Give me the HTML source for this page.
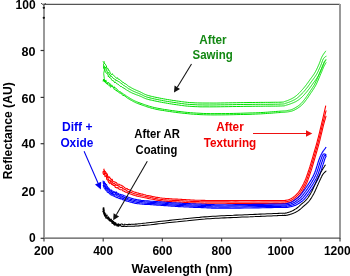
<!DOCTYPE html>
<html><head><meta charset="utf-8"><style>
html,body{margin:0;padding:0;background:#fff;width:350px;height:276px;overflow:hidden}
svg{display:block;will-change:transform}
text{font-family:"Liberation Sans",sans-serif;font-weight:bold}
</style></head><body>
<svg width="350" height="276" viewBox="0 0 350 276">
<rect width="350" height="276" fill="#fff"/>
<line x1="44" y1="4.35" x2="340" y2="4.35" stroke="#555" stroke-width="1.25"/>
<line x1="340" y1="4" x2="340" y2="238.8" stroke="#999" stroke-width="2"/>
<line x1="44" y1="238.2" x2="340" y2="238.2" stroke="#555" stroke-width="1.3"/>
<line x1="44" y1="3.5" x2="44" y2="238.8" stroke="#999" stroke-width="2"/>
<circle cx="43.8" cy="7.8" r="1.15" fill="#111"/><circle cx="43.8" cy="17.8" r="1.15" fill="#111"/>
<polyline points="41,3.2 43.6,5 46,3.4" fill="none" stroke="#333" stroke-width="0.9"/>
<line x1="40.6" y1="238.30" x2="44" y2="238.30" stroke="#333" stroke-width="1.2"/>
<line x1="40.6" y1="191.10" x2="44" y2="191.10" stroke="#333" stroke-width="1.2"/>
<line x1="40.6" y1="143.70" x2="44" y2="143.70" stroke="#333" stroke-width="1.2"/>
<line x1="40.6" y1="97.40" x2="44" y2="97.40" stroke="#333" stroke-width="1.2"/>
<line x1="40.6" y1="50.50" x2="44" y2="50.50" stroke="#333" stroke-width="1.2"/>
<line x1="44.00" y1="238" x2="44.00" y2="241.5" stroke="#444" stroke-width="1.2"/>
<line x1="103.20" y1="238" x2="103.20" y2="241.5" stroke="#444" stroke-width="1.2"/>
<line x1="162.40" y1="238" x2="162.40" y2="241.5" stroke="#444" stroke-width="1.2"/>
<line x1="221.60" y1="238" x2="221.60" y2="241.5" stroke="#444" stroke-width="1.2"/>
<line x1="280.80" y1="238" x2="280.80" y2="241.5" stroke="#444" stroke-width="1.2"/>
<line x1="340.00" y1="238" x2="340.00" y2="241.5" stroke="#444" stroke-width="1.2"/>
<g stroke-linejoin="round" stroke-linecap="round">
<path d="M103.25,61.72 L103.64,62.31 L104.19,61.62 L103.99,64.06 L104.62,63.42 L105.72,64.77 L106.05,65.64 L106.37,65.82 L106.88,68.25 L107.32,68.88 L107.98,68.39 L108.59,70.30 L108.78,70.02 L109.75,71.61 L110.16,73.01 L110.67,73.65 L110.96,73.95 L111.50,74.66 L112.31,73.69 L112.34,74.33 L113.41,75.10 L113.73,75.29 L114.22,75.81 L114.70,76.50 L115.43,77.34 L116.09,77.77 L116.82,78.27 L117.39,77.67 L118.17,79.15 L118.92,79.22 L119.61,79.41 L120.48,80.41 L121.11,80.55 L122.20,82.04 L122.84,82.50 L123.85,82.67 L124.73,83.75 L125.78,83.95 L126.62,84.61 L127.53,85.38 L128.41,86.20 L129.20,86.71 L129.98,86.96 L130.78,87.43 L131.52,87.93 L132.28,88.31 L132.99,88.73 L133.71,89.09 L134.44,89.38 L135.12,89.71 L135.82,90.02 L136.51,90.33 L137.21,90.61 L137.89,90.92 L138.58,91.19 L139.30,91.51 L140.00,91.79 L140.68,92.15 L141.28,92.46 L141.88,92.72 L142.42,93.04 L142.96,93.33 L143.50,93.65 L144.05,93.89 L144.67,94.24 L145.31,94.50 L146.05,94.78 L146.86,95.07 L147.78,95.39 L148.82,95.68 L150.01,95.97 L151.33,96.34 L152.78,96.65 L154.37,97.00 L156.04,97.37 L157.83,97.71 L159.66,98.09 L161.57,98.46 L163.51,98.80 L165.45,99.19 L167.43,99.51 L169.36,99.82 L171.30,100.13 L173.19,100.46 L174.99,100.68 L176.74,100.96 L178.36,101.17 L179.90,101.39 L181.42,101.60 L182.90,101.81 L184.40,101.99 L185.95,102.15 L187.52,102.37 L189.24,102.52 L191.03,102.65 L193.00,102.72 L195.12,102.86 L197.45,102.93 L199.99,102.99 L202.84,103.02 L206.01,103.06 L209.43,103.04 L213.06,103.07 L216.84,103.05 L220.74,102.98 L224.67,102.93 L228.65,102.83 L232.60,102.78 L236.44,102.74 L240.16,102.63 L243.68,102.61 L246.98,102.56 L250.00,102.48 L252.82,102.50 L255.54,102.47 L258.21,102.45 L260.77,102.38 L263.22,102.42 L265.56,102.37 L267.81,102.37 L269.94,102.35 L271.96,102.30 L273.82,102.29 L275.58,102.26 L277.21,102.29 L278.66,102.24 L279.99,102.19 L281.12,102.17 L282.03,102.11 L282.72,102.07 L283.24,102.04 L283.64,101.99 L283.88,101.93 L284.06,101.91 L284.18,101.84 L284.25,101.80 L284.30,101.71 L284.38,101.67 L284.50,101.59 L284.70,101.47 L285.00,101.41 L285.34,101.29 L285.71,101.22 L286.08,101.07 L286.44,100.98 L286.78,100.84 L287.13,100.73 L287.50,100.60 L287.87,100.45 L288.22,100.29 L288.56,100.15 L288.91,99.96 L289.29,99.80 L289.63,99.64 L290.01,99.48 L290.34,99.36 L290.70,99.19 L291.08,99.01 L291.44,98.82 L291.79,98.60 L292.15,98.45 L292.51,98.23 L292.86,98.10 L293.20,97.85 L293.57,97.67 L293.92,97.41 L294.28,97.21 L294.65,96.95 L295.00,96.69 L295.35,96.43 L295.70,96.16 L296.09,95.86 L296.44,95.55 L296.79,95.29 L297.15,94.95 L297.50,94.64 L297.87,94.28 L298.20,93.98 L298.58,93.62 L298.93,93.29 L299.28,92.90 L299.63,92.57 L299.99,92.18 L300.36,91.87 L300.71,91.47 L301.07,91.10 L301.43,90.67 L301.78,90.26 L302.14,89.89 L302.49,89.48 L302.85,89.10 L303.20,88.70 L303.57,88.25 L303.93,87.84 L304.29,87.39 L304.64,86.96 L305.01,86.49 L305.36,86.08 L305.71,85.57 L306.06,85.14 L306.43,84.68 L306.80,84.15 L307.13,83.67 L307.49,83.21 L307.87,82.73 L308.21,82.23 L308.57,81.70 L308.94,81.17 L309.27,80.73 L309.64,80.19 L310.00,79.71 L310.35,79.19 L310.72,78.70 L311.08,78.21 L311.47,77.70 L311.83,77.18 L312.19,76.71 L312.55,76.22 L312.94,75.65 L313.30,75.16 L313.65,74.67 L313.99,74.14 L314.34,73.61 L314.67,73.07 L315.01,72.51 L315.32,71.91 L315.63,71.35 L315.95,70.79 L316.25,70.16 L316.55,69.59 L316.83,69.01 L317.13,68.34 L317.42,67.73 L317.68,67.17 L317.96,66.55 L318.23,65.94 L318.48,65.33 L318.74,64.79 L319.01,64.20 L319.25,63.62 L319.47,63.06 L319.71,62.47 L319.91,61.92 L320.13,61.37 L320.32,60.82 L320.53,60.29 L320.72,59.76 L320.91,59.18 L321.12,58.65 L321.34,58.18 L321.54,57.64 L321.77,57.19 L322.01,56.72 L322.25,56.21 L322.51,55.74 L322.80,55.29 L323.08,54.80 L323.40,54.33 L323.70,53.94 L324.00,53.47 L324.28,53.07 L324.56,52.71 L324.82,52.30 L325.07,51.98 L325.27,51.70 L325.44,51.44 L325.60,51.20" stroke="#00e000" stroke-width="1.0" fill="none"/>
<path d="M103.52,64.57 L103.47,65.17 L103.64,65.66 L104.57,66.19 L104.90,68.10 L105.63,67.05 L106.01,68.99 L105.86,69.30 L106.54,69.61 L107.33,72.29 L107.70,73.03 L108.54,72.40 L109.21,74.12 L109.80,75.06 L110.18,75.01 L110.74,76.65 L111.28,76.28 L111.72,76.84 L111.80,76.55 L112.31,77.24 L112.90,78.12 L113.78,78.57 L114.17,79.11 L114.67,79.21 L115.52,79.51 L115.82,80.59 L116.75,80.29 L117.24,80.96 L118.05,81.07 L118.51,81.60 L119.64,82.11 L120.33,82.77 L121.09,83.37 L122.04,84.01 L122.82,84.62 L123.78,85.55 L124.67,85.87 L125.69,86.74 L126.64,87.17 L127.47,87.92 L128.29,88.68 L129.16,88.90 L130.00,89.42 L130.78,89.90 L131.52,90.27 L132.28,90.68 L133.01,91.04 L133.73,91.36 L134.42,91.67 L135.13,91.99 L135.81,92.24 L136.52,92.58 L137.20,92.79 L137.88,93.07 L138.58,93.34 L139.28,93.67 L140.01,93.93 L140.69,94.25 L141.31,94.57 L141.88,94.80 L142.41,95.12 L142.97,95.37 L143.49,95.70 L144.05,95.94 L144.66,96.24 L145.33,96.48 L146.06,96.80 L146.87,97.06 L147.80,97.34 L148.82,97.62 L150.01,97.93 L151.32,98.22 L152.79,98.58 L154.37,98.91 L156.05,99.25 L157.83,99.61 L159.66,100.02 L161.57,100.34 L163.49,100.75 L165.46,101.11 L167.43,101.41 L169.38,101.76 L171.29,102.04 L173.17,102.33 L175.01,102.57 L176.73,102.82 L178.34,103.09 L179.90,103.27 L181.40,103.52 L182.91,103.68 L184.39,103.93 L185.93,104.08 L187.53,104.26 L189.23,104.40 L191.04,104.49 L192.98,104.61 L195.13,104.71 L197.43,104.86 L199.99,104.93 L202.84,104.95 L206.00,105.00 L209.42,104.98 L213.05,104.98 L216.83,104.93 L220.73,104.84 L224.70,104.82 L228.67,104.73 L232.59,104.68 L236.45,104.58 L240.15,104.54 L243.68,104.49 L246.99,104.43 L250.00,104.41 L252.81,104.36 L255.57,104.34 L258.20,104.30 L260.75,104.29 L263.23,104.31 L265.58,104.32 L267.82,104.30 L269.94,104.25 L271.96,104.26 L273.85,104.22 L275.60,104.19 L277.25,104.20 L278.76,104.17 L280.15,104.07 L281.36,104.05 L282.32,104.03 L283.05,104.00 L283.63,103.94 L284.04,103.91 L284.33,103.83 L284.50,103.79 L284.62,103.72 L284.69,103.71 L284.77,103.66 L284.87,103.58 L284.99,103.45 L285.20,103.39 L285.53,103.30 L285.91,103.23 L286.30,103.09 L286.70,103.00 L287.08,102.85 L287.48,102.70 L287.85,102.61 L288.25,102.45 L288.63,102.31 L289.04,102.19 L289.43,102.06 L289.82,101.85 L290.19,101.69 L290.58,101.55 L290.96,101.40 L291.35,101.22 L291.74,101.08 L292.13,100.87 L292.51,100.71 L292.91,100.55 L293.30,100.37 L293.67,100.14 L294.07,99.99 L294.44,99.79 L294.83,99.53 L295.20,99.29 L295.59,99.13 L295.98,98.85 L296.35,98.63 L296.73,98.34 L297.09,98.06 L297.46,97.75 L297.85,97.51 L298.22,97.16 L298.58,96.85 L298.97,96.53 L299.34,96.18 L299.69,95.87 L300.05,95.55 L300.43,95.21 L300.79,94.79 L301.14,94.47 L301.50,94.08 L301.86,93.76 L302.20,93.37 L302.57,92.98 L302.94,92.62 L303.29,92.18 L303.65,91.78 L304.00,91.42 L304.35,90.97 L304.73,90.60 L305.07,90.14 L305.42,89.69 L305.78,89.32 L306.13,88.82 L306.49,88.37 L306.86,87.97 L307.22,87.50 L307.58,86.99 L307.92,86.58 L308.27,86.05 L308.64,85.57 L309.00,85.06 L309.35,84.63 L309.70,84.13 L310.06,83.64 L310.43,83.11 L310.78,82.57 L311.15,82.08 L311.49,81.62 L311.87,81.07 L312.24,80.60 L312.59,80.08 L312.95,79.64 L313.32,79.08 L313.69,78.57 L314.06,78.12 L314.41,77.56 L314.80,77.10 L315.16,76.53 L315.49,76.06 L315.84,75.50 L316.17,74.91 L316.50,74.42 L316.83,73.84 L317.13,73.27 L317.44,72.68 L317.75,72.06 L318.05,71.52 L318.35,70.85 L318.64,70.29 L318.90,69.64 L319.18,69.02 L319.47,68.44 L319.74,67.82 L319.98,67.28 L320.26,66.71 L320.51,66.10 L320.75,65.50 L320.98,64.94 L321.19,64.37 L321.41,63.77 L321.62,63.16 L321.82,62.60 L322.04,62.05 L322.24,61.48 L322.42,60.95 L322.62,60.36 L322.84,59.91 L323.04,59.44 L323.26,59.03 L323.50,58.60 L323.75,58.27 L324.03,57.91 L324.30,57.61 L324.58,57.32 L324.90,57.09 L325.18,56.87 L325.48,56.67 L325.77,56.42 L326.00,56.32" stroke="#00e000" stroke-width="1.0" fill="none"/>
<path d="M103.58,66.86 L103.50,67.84 L104.18,67.86 L104.05,68.95 L104.64,69.03 L105.31,71.84 L105.78,72.27 L106.53,73.36 L107.12,73.40 L107.45,73.63 L108.15,75.05 L108.37,76.90 L108.77,76.32 L109.72,77.83 L109.69,77.41 L110.41,77.96 L111.26,78.80 L111.39,79.64 L112.07,80.15 L112.67,80.93 L113.07,80.41 L113.95,81.72 L113.96,81.70 L114.93,82.87 L115.13,81.83 L115.98,82.80 L116.84,83.74 L117.22,83.65 L118.04,84.68 L118.60,84.60 L119.34,85.41 L120.15,86.26 L121.20,86.47 L121.93,86.76 L122.96,87.88 L123.89,88.04 L124.91,88.90 L125.70,89.20 L126.56,90.15 L127.42,90.50 L128.37,90.95 L129.23,91.61 L130.03,91.99 L130.76,92.26 L131.53,92.69 L132.27,93.09 L132.99,93.41 L133.73,93.66 L134.44,93.97 L135.12,94.23 L135.81,94.52 L136.51,94.80 L137.21,95.00 L137.89,95.28 L138.58,95.53 L139.28,95.82 L140.00,96.06 L140.67,96.36 L141.30,96.62 L141.88,96.89 L142.42,97.19 L142.95,97.47 L143.50,97.72 L144.07,97.99 L144.66,98.21 L145.33,98.53 L146.05,98.78 L146.86,99.06 L147.79,99.28 L148.83,99.61 L150.00,99.90 L151.32,100.14 L152.79,100.47 L154.37,100.82 L156.04,101.18 L157.83,101.54 L159.67,101.93 L161.56,102.27 L163.50,102.65 L165.45,102.95 L167.43,103.32 L169.37,103.67 L171.31,103.95 L173.19,104.26 L175.01,104.48 L176.71,104.76 L178.36,104.97 L179.91,105.21 L181.41,105.43 L182.91,105.61 L184.39,105.80 L185.93,105.99 L187.53,106.13 L189.22,106.28 L191.04,106.39 L192.98,106.53 L195.11,106.64 L197.43,106.70 L200.00,106.83 L202.86,106.85 L206.00,106.84 L209.42,106.86 L213.06,106.83 L216.85,106.82 L220.73,106.75 L224.70,106.69 L228.66,106.65 L232.59,106.56 L236.46,106.53 L240.16,106.47 L243.68,106.40 L246.99,106.32 L250.00,106.33 L252.81,106.29 L255.54,106.26 L258.20,106.23 L260.75,106.24 L263.22,106.20 L265.57,106.18 L267.82,106.15 L269.94,106.16 L271.95,106.10 L273.82,106.13 L275.58,106.11 L277.27,106.10 L278.86,106.05 L280.31,105.97 L281.58,105.98 L282.62,105.90 L283.40,105.92 L284.02,105.84 L284.46,105.77 L284.76,105.76 L284.96,105.68 L285.07,105.66 L285.18,105.56 L285.22,105.49 L285.34,105.45 L285.47,105.41 L285.71,105.28 L286.06,105.16 L286.47,105.11 L286.89,104.96 L287.32,104.87 L287.75,104.73 L288.17,104.63 L288.59,104.51 L289.00,104.36 L289.41,104.23 L289.85,104.08 L290.26,103.93 L290.67,103.77 L291.11,103.63 L291.53,103.45 L291.93,103.27 L292.36,103.11 L292.78,102.95 L293.20,102.80 L293.62,102.63 L294.03,102.43 L294.43,102.22 L294.86,102.06 L295.25,101.90 L295.67,101.67 L296.08,101.42 L296.50,101.20 L296.88,101.03 L297.28,100.75 L297.69,100.48 L298.10,100.23 L298.47,99.95 L298.86,99.68 L299.27,99.40 L299.64,99.08 L300.03,98.75 L300.41,98.42 L300.78,98.11 L301.16,97.80 L301.53,97.46 L301.90,97.04 L302.29,96.72 L302.65,96.36 L303.00,95.97 L303.36,95.63 L303.73,95.22 L304.06,94.89 L304.44,94.49 L304.79,94.10 L305.14,93.70 L305.50,93.26 L305.85,92.90 L306.21,92.46 L306.56,92.03 L306.93,91.63 L307.30,91.18 L307.63,90.73 L307.99,90.28 L308.36,89.86 L308.71,89.37 L309.06,88.90 L309.43,88.43 L309.80,87.97 L310.14,87.48 L310.49,87.01 L310.86,86.49 L311.22,85.99 L311.56,85.48 L311.92,85.01 L312.29,84.52 L312.63,84.02 L313.00,83.49 L313.36,83.00 L313.71,82.49 L314.09,82.02 L314.47,81.48 L314.84,81.02 L315.20,80.53 L315.55,80.01 L315.94,79.46 L316.29,79.00 L316.64,78.47 L317.01,77.92 L317.33,77.37 L317.68,76.84 L317.99,76.30 L318.33,75.72 L318.62,75.20 L318.94,74.57 L319.26,73.97 L319.53,73.41 L319.83,72.76 L320.14,72.15 L320.42,71.55 L320.68,70.93 L320.96,70.35 L321.22,69.75 L321.48,69.18 L321.76,68.59 L322.01,67.97 L322.24,67.40 L322.47,66.86 L322.71,66.24 L322.91,65.57 L323.12,64.94 L323.34,64.35 L323.52,63.79 L323.72,63.21 L323.92,62.64 L324.12,62.14 L324.33,61.62 L324.55,61.20 L324.76,60.79 L325.00,60.47 L325.26,60.24 L325.50,60.04 L325.79,59.91 L326.00,59.85" stroke="#00e000" stroke-width="1.0" fill="none"/>
<path d="M103.6,66 L104.4,70 L103.7,73.5 L104.3,78.5" stroke="#00e000" stroke-width="0.85" fill="none"/>
<path d="M103.60,79.37 L103.74,80.20 L103.62,81.03 L103.75,80.90 L104.04,80.89 L104.37,79.27 L104.92,81.41 L105.52,81.74 L105.96,79.96 L105.72,80.38 L106.45,81.51 L106.84,82.64 L107.50,82.69 L107.84,82.74 L107.63,83.87 L108.18,82.49 L109.40,83.36 L109.87,83.30 L110.16,85.20 L110.71,85.28 L112.12,85.24 L112.67,86.76 L113.36,87.33 L114.19,86.59 L114.63,88.03 L115.91,88.09 L116.47,88.54 L117.41,89.57 L118.01,90.43 L118.62,91.05 L119.77,91.77 L120.38,91.64 L121.20,92.96 L122.20,93.06 L123.12,93.96 L123.94,94.28 L124.97,95.22 L125.73,95.35 L126.75,96.34 L127.54,96.73 L128.45,97.29 L129.16,97.69 L129.98,98.33 L130.74,98.82 L131.45,99.14 L132.10,99.52 L132.72,99.86 L133.31,100.19 L133.91,100.48 L134.51,100.78 L135.13,101.06 L135.77,101.38 L136.48,101.66 L137.22,101.96 L138.07,102.31 L138.97,102.62 L139.99,103.04 L141.07,103.38 L142.15,103.78 L143.27,104.19 L144.39,104.58 L145.58,104.97 L146.83,105.42 L148.12,105.87 L149.51,106.28 L150.98,106.71 L152.53,107.09 L154.21,107.52 L156.01,107.92 L157.92,108.29 L159.99,108.67 L162.23,109.08 L164.57,109.47 L167.07,109.81 L169.69,110.22 L172.42,110.60 L175.21,110.99 L178.14,111.40 L181.11,111.70 L184.15,112.08 L187.25,112.41 L190.42,112.69 L193.59,112.92 L196.80,113.11 L199.99,113.27 L203.30,113.46 L206.78,113.55 L210.41,113.62 L214.15,113.63 L217.95,113.58 L221.77,113.58 L225.62,113.56 L229.46,113.51 L233.22,113.43 L236.88,113.34 L240.44,113.28 L243.82,113.15 L247.02,113.06 L250.01,112.96 L252.82,112.91 L255.53,112.82 L258.17,112.73 L260.71,112.57 L263.15,112.45 L265.45,112.30 L267.70,112.16 L269.81,111.96 L271.79,111.83 L273.68,111.69 L275.46,111.56 L277.09,111.39 L278.63,111.31 L280.00,111.20 L281.21,111.13 L282.22,111.04 L283.05,111.04 L283.71,110.95 L284.23,110.96 L284.67,110.92 L284.99,110.91 L285.28,110.85 L285.52,110.83 L285.75,110.83 L286.00,110.74 L286.26,110.76 L286.59,110.68 L287.01,110.56 L287.47,110.53 L287.90,110.43 L288.34,110.35 L288.76,110.28 L289.19,110.25 L289.59,110.16 L290.00,110.05 L290.40,109.97 L290.83,109.85 L291.23,109.72 L291.65,109.56 L292.10,109.35 L292.54,109.24 L293.00,108.99 L293.48,108.76 L293.98,108.51 L294.46,108.29 L294.97,107.94 L295.52,107.63 L296.04,107.37 L296.57,106.99 L297.10,106.69 L297.61,106.32 L298.11,105.95 L298.63,105.63 L299.08,105.21 L299.55,104.89 L299.99,104.47 L300.43,104.11 L300.83,103.76 L301.22,103.41 L301.56,103.03 L301.93,102.60 L302.27,102.24 L302.63,101.81 L302.97,101.39 L303.29,100.97 L303.62,100.61 L303.96,100.12 L304.29,99.72 L304.64,99.29 L304.99,98.83 L305.36,98.36 L305.71,97.81 L306.06,97.36 L306.41,96.82 L306.79,96.37 L307.15,95.85 L307.50,95.32 L307.86,94.77 L308.21,94.19 L308.56,93.66 L308.93,93.11 L309.30,92.60 L309.65,92.08 L309.99,91.53 L310.37,90.94 L310.70,90.45 L311.08,89.92 L311.43,89.38 L311.77,88.82 L312.14,88.32 L312.49,87.80 L312.84,87.25 L313.21,86.67 L313.58,86.10 L313.93,85.47 L314.28,84.86 L314.63,84.21 L315.00,83.46 L315.38,82.76 L315.72,81.98 L316.09,81.17 L316.49,80.38 L316.87,79.49 L317.26,78.60 L317.62,77.67 L317.99,76.80 L318.35,75.94 L318.71,75.07 L319.06,74.24 L319.38,73.42 L319.71,72.67 L320.01,72.04 L320.27,71.39 L320.54,70.78 L320.78,70.18 L321.02,69.57 L321.24,69.07 L321.45,68.57 L321.66,68.09 L321.86,67.56 L322.05,67.14 L322.24,66.65 L322.41,66.29 L322.61,65.85 L322.81,65.40 L323.00,65.00 L323.22,64.59 L323.42,64.17 L323.64,63.80 L323.86,63.43 L324.05,63.06 L324.28,62.64 L324.49,62.28 L324.68,62.01 L324.89,61.70 L325.05,61.35 L325.22,61.12 L325.38,60.87 L325.50,60.68 L325.59,60.52" stroke="#00e000" stroke-width="1.0" fill="none"/>
<path d="M103.15,81.04 L103.44,79.74 L103.93,81.14 L104.27,80.93 L104.81,82.16 L104.27,80.38 L105.35,81.64 L104.78,81.30 L105.69,81.56 L105.71,83.06 L106.07,83.30 L107.03,83.93 L107.16,83.87 L107.33,84.25 L108.13,84.49 L108.53,85.25 L108.87,85.58 L110.13,84.62 L110.19,87.04 L110.75,87.18 L111.85,86.27 L112.62,86.71 L113.53,87.81 L114.34,89.38 L114.60,89.11 L115.41,90.23 L116.18,89.76 L116.99,91.45 L117.86,91.26 L118.77,92.12 L119.59,93.17 L120.40,93.21 L121.49,93.58 L122.10,94.79 L123.04,95.43 L124.10,95.60 L124.84,96.03 L125.88,96.88 L126.62,97.33 L127.47,98.25 L128.31,98.64 L129.22,99.13 L130.00,99.57 L130.73,100.10 L131.47,100.45 L132.09,100.85 L132.70,101.14 L133.31,101.51 L133.90,101.77 L134.52,102.07 L135.11,102.43 L135.78,102.71 L136.46,103.01 L137.23,103.25 L138.07,103.64 L138.97,103.94 L140.01,104.29 L141.07,104.70 L142.16,105.11 L143.27,105.50 L144.41,105.86 L145.59,106.31 L146.82,106.74 L148.12,107.13 L149.52,107.57 L150.96,108.04 L152.54,108.44 L154.21,108.81 L156.00,109.26 L157.92,109.66 L159.99,110.03 L162.21,110.37 L164.57,110.73 L167.07,111.14 L169.68,111.51 L172.39,111.91 L175.23,112.27 L178.12,112.70 L181.11,113.01 L184.17,113.33 L187.25,113.64 L190.40,113.99 L193.58,114.19 L196.80,114.39 L199.98,114.61 L203.30,114.74 L206.78,114.84 L210.42,114.88 L214.13,114.93 L217.95,114.88 L221.77,114.88 L225.63,114.83 L229.45,114.77 L233.22,114.71 L236.87,114.60 L240.42,114.53 L243.83,114.46 L247.02,114.42 L250.01,114.32 L252.80,114.20 L255.54,114.09 L258.16,113.97 L260.69,113.88 L263.14,113.71 L265.46,113.58 L267.69,113.38 L269.81,113.26 L271.81,113.15 L273.74,112.96 L275.53,112.83 L277.24,112.70 L278.80,112.60 L280.25,112.52 L281.53,112.41 L282.59,112.36 L283.43,112.29 L284.13,112.26 L284.71,112.27 L285.15,112.18 L285.49,112.16 L285.79,112.18 L286.03,112.14 L286.28,112.12 L286.54,112.06 L286.82,112.01 L287.16,111.98 L287.59,111.90 L288.08,111.80 L288.54,111.78 L288.99,111.65 L289.44,111.60 L289.88,111.51 L290.31,111.41 L290.74,111.35 L291.16,111.25 L291.59,111.16 L292.05,110.97 L292.48,110.84 L292.92,110.72 L293.40,110.53 L293.87,110.34 L294.35,110.08 L294.86,109.85 L295.39,109.53 L295.90,109.26 L296.45,108.94 L297.00,108.67 L297.53,108.31 L298.07,107.94 L298.60,107.58 L299.12,107.27 L299.60,106.87 L300.10,106.53 L300.56,106.13 L301.01,105.79 L301.42,105.45 L301.82,105.06 L302.20,104.68 L302.56,104.29 L302.94,103.89 L303.27,103.55 L303.62,103.13 L303.96,102.74 L304.29,102.32 L304.61,101.91 L304.96,101.46 L305.30,101.03 L305.64,100.57 L305.99,100.13 L306.37,99.61 L306.72,99.18 L307.06,98.63 L307.44,98.19 L307.77,97.66 L308.16,97.10 L308.51,96.58 L308.87,96.06 L309.21,95.49 L309.58,95.00 L309.92,94.40 L310.27,93.87 L310.66,93.37 L311.01,92.82 L311.35,92.25 L311.73,91.75 L312.09,91.22 L312.44,90.69 L312.80,90.13 L313.13,89.59 L313.48,89.04 L313.86,88.49 L314.21,87.91 L314.57,87.36 L314.93,86.79 L315.27,86.11 L315.63,85.52 L316.00,84.81 L316.37,84.04 L316.74,83.29 L317.11,82.48 L317.49,81.62 L317.86,80.75 L318.26,79.88 L318.61,78.98 L319.00,78.09 L319.36,77.25 L319.72,76.38 L320.05,75.56 L320.40,74.74 L320.69,73.96 L321.01,73.33 L321.28,72.66 L321.54,72.01 L321.79,71.50 L322.01,70.91 L322.25,70.38 L322.44,69.83 L322.66,69.40 L322.86,68.88 L323.05,68.46 L323.23,68.01 L323.42,67.53 L323.59,67.15 L323.81,66.68 L323.99,66.29 L324.19,65.91 L324.41,65.49 L324.63,65.08 L324.86,64.70 L325.07,64.34 L325.28,63.94 L325.50,63.63 L325.69,63.28 L325.88,62.96 L326.00,62.76" stroke="#00e000" stroke-width="1.0" fill="none"/>
<path d="M103.81,169.77 L103.98,169.14 L104.01,170.17 L104.65,170.90 L104.49,171.56 L105.58,171.66 L105.11,171.51 L106.22,172.91 L106.98,174.27 L107.31,173.97 L107.70,176.08 L108.61,177.30 L108.62,177.17 L109.81,177.01 L109.65,177.85 L110.79,178.73 L111.41,180.26 L112.15,179.28 L112.75,181.19 L113.46,181.77 L114.26,181.79 L115.03,182.12 L115.29,182.15 L116.55,182.67 L117.03,183.87 L117.90,184.15 L118.53,184.18 L119.07,184.22 L119.84,185.04 L120.73,184.95 L121.48,185.42 L122.10,185.78 L122.85,186.31 L123.72,186.91 L124.39,187.37 L124.95,188.03 L125.66,188.18 L126.46,188.82 L127.18,188.65 L127.85,189.43 L128.63,189.51 L129.24,189.81 L130.03,190.12 L130.72,190.45 L131.35,190.80 L131.95,191.03 L132.57,191.26 L133.16,191.52 L133.78,191.72 L134.36,191.96 L135.02,192.18 L135.70,192.38 L136.41,192.62 L137.19,192.85 L138.05,193.08 L138.99,193.38 L140.02,193.58 L141.12,193.92 L142.32,194.15 L143.61,194.53 L144.99,194.82 L146.39,195.18 L147.89,195.50 L149.39,195.82 L150.90,196.12 L152.44,196.44 L153.99,196.74 L155.52,197.10 L157.07,197.36 L158.54,197.58 L160.00,197.82 L161.42,197.99 L162.86,198.19 L164.28,198.27 L165.71,198.47 L167.13,198.57 L168.56,198.64 L170.00,198.72 L171.43,198.84 L172.85,198.93 L174.30,198.97 L175.72,199.08 L177.15,199.14 L178.57,199.23 L180.01,199.28 L181.42,199.41 L182.81,199.51 L184.19,199.57 L185.57,199.65 L186.93,199.74 L188.30,199.81 L189.69,199.90 L191.09,199.99 L192.48,200.06 L193.92,200.09 L195.37,200.18 L196.87,200.19 L198.41,200.23 L199.99,200.28 L201.56,200.33 L203.05,200.41 L204.50,200.39 L205.91,200.44 L207.34,200.43 L208.78,200.47 L210.32,200.44 L211.93,200.43 L213.66,200.50 L215.54,200.44 L217.57,200.50 L219.80,200.49 L222.27,200.47 L224.98,200.48 L228.13,200.52 L231.73,200.56 L235.69,200.56 L240.00,200.56 L244.47,200.53 L249.09,200.56 L253.74,200.59 L258.36,200.56 L262.81,200.59 L267.06,200.61 L270.98,200.63 L274.51,200.60 L277.55,200.62 L279.99,200.57 L281.89,200.61 L283.35,200.58 L284.38,200.56 L285.08,200.59 L285.48,200.62 L285.63,200.62 L285.61,200.62 L285.50,200.55 L285.26,200.53 L285.04,200.56 L284.85,200.54 L284.72,200.51 L284.76,200.43 L285.00,200.42 L285.35,200.36 L285.72,200.32 L286.07,200.24 L286.43,200.19 L286.79,200.10 L287.13,200.03 L287.50,200.03 L287.86,199.93 L288.23,199.86 L288.56,199.71 L288.93,199.60 L289.29,199.46 L289.64,199.37 L289.99,199.17 L290.37,199.00 L290.73,198.85 L291.09,198.65 L291.44,198.42 L291.79,198.26 L292.15,197.96 L292.54,197.75 L292.89,197.53 L293.25,197.22 L293.59,196.98 L293.96,196.67 L294.30,196.40 L294.64,196.13 L295.01,195.77 L295.34,195.50 L295.66,195.18 L296.01,194.88 L296.33,194.55 L296.66,194.27 L296.97,193.89 L297.28,193.55 L297.61,193.21 L297.92,192.84 L298.24,192.44 L298.58,192.01 L298.92,191.63 L299.26,191.15 L299.59,190.61 L299.95,190.09 L300.32,189.49 L300.71,188.83 L301.06,188.24 L301.47,187.55 L301.83,186.83 L302.25,186.18 L302.62,185.46 L303.02,184.67 L303.39,184.01 L303.77,183.26 L304.11,182.49 L304.45,181.76 L304.81,180.99 L305.11,180.23 L305.44,179.53 L305.75,178.75 L306.05,177.91 L306.35,177.12 L306.65,176.32 L306.93,175.54 L307.21,174.75 L307.49,173.94 L307.76,173.10 L308.02,172.36 L308.30,171.54 L308.54,170.72 L308.81,170.01 L309.04,169.25 L309.27,168.62 L309.47,167.95 L309.68,167.36 L309.85,166.73 L310.05,166.19 L310.24,165.52 L310.43,164.91 L310.65,164.25 L310.87,163.54 L311.07,162.75 L311.33,161.95 L311.61,161.03 L311.90,159.96 L312.24,158.85 L312.58,157.62 L312.98,156.35 L313.37,154.94 L313.78,153.52 L314.24,151.99 L314.66,150.52 L315.12,148.93 L315.57,147.42 L316.00,145.85 L316.43,144.33 L316.84,142.88 L317.24,141.36 L317.59,139.98 L317.94,138.68 L318.30,137.30 L318.64,135.97 L318.97,134.67 L319.29,133.37 L319.62,132.07 L319.93,130.72 L320.23,129.50 L320.53,128.20 L320.82,126.96 L321.12,125.68 L321.43,124.42 L321.69,123.21 L322.00,121.97 L322.29,120.78 L322.61,119.50 L322.92,118.12 L323.21,116.81 L323.51,115.50 L323.82,114.19 L324.13,112.86 L324.40,111.63 L324.67,110.41 L324.93,109.33 L325.16,108.36 L325.38,107.42 L325.54,106.67 L325.69,105.97" stroke="#ff0000" stroke-width="1.1" fill="none"/>
<path d="M103.67,171.81 L103.40,171.27 L104.37,171.72 L104.16,171.40 L104.23,173.96 L105.44,172.92 L105.73,173.75 L106.31,175.03 L106.77,176.24 L106.74,177.16 L107.81,176.80 L107.83,178.12 L109.01,180.41 L109.36,180.83 L110.17,180.23 L110.57,181.96 L111.24,181.82 L112.08,181.66 L112.58,182.85 L113.37,183.62 L113.89,183.70 L114.76,183.54 L115.71,185.32 L116.32,184.89 L116.97,185.36 L117.73,185.52 L118.77,186.06 L119.14,186.82 L119.77,186.86 L120.74,187.78 L121.35,187.36 L122.32,187.74 L122.83,188.61 L123.73,188.86 L124.21,189.18 L124.96,189.46 L125.82,190.07 L126.48,190.28 L127.18,190.96 L127.81,191.28 L128.54,191.48 L129.34,191.69 L130.04,191.97 L130.69,192.36 L131.35,192.47 L131.95,192.78 L132.56,192.98 L133.17,193.22 L133.77,193.44 L134.36,193.65 L135.03,193.89 L135.69,194.04 L136.41,194.25 L137.19,194.44 L138.03,194.73 L138.99,194.91 L140.00,195.13 L141.13,195.44 L142.34,195.70 L143.62,196.02 L144.98,196.27 L146.39,196.65 L147.86,196.89 L149.38,197.22 L150.90,197.58 L152.44,197.87 L154.01,198.20 L155.55,198.43 L157.07,198.74 L158.54,199.02 L159.99,199.24 L161.41,199.36 L162.86,199.57 L164.29,199.73 L165.70,199.86 L167.14,199.99 L168.58,200.07 L169.99,200.18 L171.42,200.21 L172.85,200.33 L174.28,200.38 L175.72,200.44 L177.13,200.53 L178.58,200.63 L179.99,200.71 L181.43,200.80 L182.80,200.84 L184.21,200.98 L185.56,201.06 L186.94,201.14 L188.30,201.22 L189.68,201.27 L191.07,201.37 L192.50,201.41 L193.91,201.47 L195.39,201.54 L196.86,201.63 L198.42,201.62 L200.01,201.70 L201.57,201.77 L203.06,201.80 L204.48,201.82 L205.90,201.83 L207.32,201.84 L208.78,201.88 L210.30,201.86 L211.94,201.89 L213.66,201.86 L215.51,201.91 L217.56,201.91 L219.81,201.88 L222.28,201.89 L225.01,201.91 L228.11,201.91 L231.71,201.95 L235.69,201.92 L239.99,201.93 L244.49,201.98 L249.09,201.96 L253.76,201.98 L258.36,201.97 L262.82,202.00 L267.07,201.98 L270.99,201.98 L274.50,201.98 L277.58,201.97 L280.08,202.00 L282.05,202.01 L283.53,201.99 L284.64,201.97 L285.35,202.02 L285.76,201.96 L285.94,202.01 L285.93,201.98 L285.79,202.00 L285.54,201.93 L285.31,201.95 L285.09,201.91 L284.99,201.85 L285.03,201.81 L285.29,201.76 L285.64,201.76 L286.02,201.71 L286.40,201.69 L286.78,201.58 L287.14,201.53 L287.53,201.49 L287.91,201.40 L288.29,201.31 L288.65,201.27 L289.03,201.13 L289.41,201.04 L289.76,200.89 L290.15,200.75 L290.51,200.60 L290.88,200.41 L291.28,200.23 L291.66,200.01 L292.02,199.84 L292.39,199.66 L292.79,199.38 L293.14,199.18 L293.54,198.90 L293.89,198.60 L294.28,198.38 L294.64,198.07 L294.99,197.79 L295.36,197.51 L295.71,197.19 L296.06,196.91 L296.42,196.56 L296.76,196.30 L297.07,195.94 L297.42,195.63 L297.72,195.30 L298.07,194.98 L298.37,194.61 L298.71,194.25 L299.03,193.89 L299.38,193.42 L299.70,192.97 L300.04,192.52 L300.39,192.01 L300.77,191.44 L301.12,190.86 L301.50,190.22 L301.87,189.60 L302.25,188.98 L302.66,188.27 L303.02,187.58 L303.42,186.87 L303.81,186.09 L304.19,185.38 L304.55,184.65 L304.91,183.85 L305.25,183.15 L305.59,182.37 L305.91,181.68 L306.24,180.92 L306.57,180.14 L306.85,179.37 L307.16,178.56 L307.46,177.72 L307.73,176.96 L308.00,176.09 L308.27,175.32 L308.55,174.55 L308.81,173.71 L309.09,172.94 L309.36,172.17 L309.61,171.44 L309.85,170.69 L310.06,170.01 L310.27,169.35 L310.48,168.76 L310.66,168.13 L310.87,167.56 L311.04,166.95 L311.24,166.36 L311.45,165.68 L311.67,164.95 L311.88,164.17 L312.14,163.31 L312.39,162.44 L312.69,161.37 L313.03,160.27 L313.39,159.03 L313.77,157.72 L314.17,156.36 L314.59,154.89 L315.04,153.45 L315.46,151.90 L315.90,150.32 L316.35,148.84 L316.78,147.26 L317.23,145.69 L317.63,144.22 L318.03,142.82 L318.41,141.42 L318.74,140.06 L319.10,138.68 L319.43,137.35 L319.77,136.00 L320.11,134.66 L320.42,133.33 L320.73,132.05 L321.03,130.76 L321.32,129.47 L321.63,128.20 L321.94,127.00 L322.22,125.79 L322.50,124.53 L322.79,123.43 L323.09,122.26 L323.39,121.01 L323.71,119.83 L324.01,118.58 L324.32,117.35 L324.64,116.21 L324.92,115.00 L325.22,113.91 L325.49,112.86 L325.72,111.90 L325.95,111.02 L326.00,110.82" stroke="#ff0000" stroke-width="1.1" fill="none"/>
<path d="M102.99,171.82 L103.15,173.43 L103.68,174.57 L104.50,174.53 L105.14,176.39 L104.94,176.63 L105.78,175.97 L106.35,176.44 L106.75,179.35 L107.26,179.68 L107.82,179.85 L107.90,180.57 L108.66,182.26 L109.73,183.27 L109.86,183.71 L110.93,182.50 L111.29,183.21 L111.60,184.39 L112.76,184.40 L113.20,185.41 L114.08,185.25 L114.58,185.52 L115.42,187.48 L116.10,187.50 L117.13,188.03 L117.96,187.31 L118.45,188.72 L119.35,189.11 L119.78,189.45 L120.67,189.76 L121.46,189.68 L122.15,189.74 L123.01,190.90 L123.62,191.05 L124.36,191.23 L124.93,191.73 L125.84,192.20 L126.50,192.10 L127.10,192.50 L127.87,193.10 L128.59,193.26 L129.28,193.41 L129.98,193.92 L130.72,194.08 L131.35,194.26 L131.95,194.49 L132.55,194.72 L133.18,194.96 L133.75,195.12 L134.36,195.31 L135.00,195.52 L135.68,195.70 L136.42,195.88 L137.18,196.13 L138.04,196.32 L138.97,196.53 L139.98,196.72 L141.13,196.96 L142.34,197.21 L143.61,197.50 L144.98,197.75 L146.41,198.07 L147.87,198.39 L149.39,198.67 L150.90,199.00 L152.46,199.28 L154.00,199.56 L155.54,199.87 L157.07,200.12 L158.53,200.41 L160.00,200.62 L161.44,200.81 L162.85,200.99 L164.29,201.10 L165.70,201.21 L167.13,201.34 L168.57,201.47 L170.01,201.56 L171.43,201.59 L172.86,201.71 L174.29,201.77 L175.72,201.86 L177.15,201.93 L178.58,202.04 L180.00,202.10 L181.42,202.19 L182.83,202.31 L184.20,202.38 L185.56,202.48 L186.94,202.49 L188.29,202.63 L189.70,202.69 L191.08,202.73 L192.49,202.85 L193.93,202.85 L195.37,202.91 L196.89,203.03 L198.43,203.05 L199.99,203.06 L201.55,203.13 L203.04,203.16 L204.49,203.23 L205.90,203.24 L207.32,203.22 L208.80,203.21 L210.30,203.30 L211.92,203.26 L213.66,203.30 L215.52,203.30 L217.56,203.31 L219.81,203.27 L222.26,203.26 L225.00,203.27 L228.13,203.35 L231.71,203.34 L235.71,203.34 L239.99,203.34 L244.49,203.33 L249.10,203.37 L253.74,203.35 L258.37,203.39 L262.82,203.39 L267.07,203.41 L270.97,203.44 L274.52,203.42 L277.59,203.42 L280.16,203.44 L282.20,203.37 L283.76,203.39 L284.87,203.43 L285.63,203.39 L286.07,203.39 L286.27,203.41 L286.26,203.41 L286.09,203.36 L285.87,203.34 L285.59,203.34 L285.37,203.32 L285.25,203.26 L285.29,203.24 L285.55,203.23 L285.95,203.13 L286.35,203.08 L286.75,203.05 L287.11,203.01 L287.53,202.92 L287.91,202.87 L288.31,202.84 L288.68,202.71 L289.09,202.63 L289.47,202.54 L289.85,202.38 L290.27,202.29 L290.64,202.16 L291.04,202.03 L291.41,201.84 L291.80,201.65 L292.22,201.45 L292.60,201.27 L293.00,201.06 L293.39,200.78 L293.79,200.55 L294.15,200.27 L294.57,200.05 L294.92,199.79 L295.33,199.45 L295.71,199.17 L296.07,198.92 L296.43,198.59 L296.79,198.30 L297.16,198.02 L297.51,197.71 L297.83,197.36 L298.18,197.09 L298.50,196.75 L298.83,196.35 L299.17,196.06 L299.50,195.68 L299.84,195.28 L300.16,194.87 L300.49,194.39 L300.84,193.90 L301.21,193.43 L301.57,192.86 L301.92,192.24 L302.30,191.69 L302.67,191.05 L303.06,190.38 L303.44,189.70 L303.83,188.93 L304.23,188.27 L304.61,187.50 L304.99,186.75 L305.35,186.01 L305.71,185.25 L306.05,184.54 L306.40,183.79 L306.73,183.04 L307.05,182.25 L307.36,181.55 L307.66,180.74 L307.97,179.91 L308.23,179.13 L308.54,178.33 L308.81,177.51 L309.09,176.74 L309.34,175.92 L309.61,175.14 L309.88,174.36 L310.14,173.57 L310.40,172.84 L310.64,172.08 L310.87,171.39 L311.09,170.76 L311.26,170.14 L311.47,169.60 L311.66,169.01 L311.83,168.39 L312.05,167.71 L312.22,167.06 L312.45,166.36 L312.69,165.56 L312.92,164.73 L313.19,163.82 L313.50,162.78 L313.82,161.69 L314.18,160.48 L314.58,159.12 L314.96,157.78 L315.38,156.33 L315.83,154.84 L316.26,153.32 L316.70,151.76 L317.17,150.21 L317.58,148.64 L318.01,147.16 L318.44,145.63 L318.83,144.18 L319.20,142.79 L319.57,141.43 L319.90,140.09 L320.23,138.69 L320.57,137.39 L320.89,136.00 L321.21,134.69 L321.52,133.37 L321.83,132.02 L322.13,130.80 L322.42,129.54 L322.71,128.29 L323.02,127.10 L323.29,125.90 L323.60,124.83 L323.89,123.72 L324.20,122.61 L324.49,121.48 L324.81,120.32 L325.13,119.25 L325.44,118.23 L325.73,117.15 L326.00,116.20" stroke="#ff0000" stroke-width="1.1" fill="none"/>
<path d="M103.08,181.10 L103.53,182.35 L104.35,181.73 L104.47,183.64 L104.53,184.05 L105.41,183.31 L105.70,184.57 L106.27,184.56 L106.70,184.91 L106.80,186.24 L107.57,186.83 L108.05,188.33 L108.77,188.04 L109.32,189.15 L109.79,189.66 L110.42,189.98 L111.21,189.97 L111.77,190.67 L112.46,191.00 L113.40,191.51 L114.30,191.73 L114.63,192.08 L115.35,192.41 L116.48,191.98 L116.85,193.05 L117.74,193.23 L118.66,193.79 L119.28,194.00 L120.14,194.24 L120.67,194.65 L121.40,194.93 L122.11,194.91 L122.73,194.95 L123.68,195.48 L124.34,195.77 L125.05,196.07 L125.65,196.24 L126.45,196.45 L127.21,196.68 L127.87,197.23 L128.60,197.24 L129.25,197.62 L129.99,197.72 L130.67,198.04 L131.32,198.20 L131.97,198.41 L132.57,198.58 L133.15,198.77 L133.77,198.97 L134.38,199.16 L135.02,199.28 L135.69,199.43 L136.42,199.61 L137.19,199.79 L138.06,199.92 L138.98,200.08 L140.01,200.18 L141.12,200.37 L142.34,200.50 L143.62,200.58 L144.99,200.70 L146.41,200.83 L147.88,200.94 L149.37,201.08 L150.91,201.20 L152.44,201.25 L154.00,201.38 L155.54,201.48 L157.04,201.59 L158.54,201.71 L160.01,201.82 L161.42,201.91 L162.85,202.04 L164.28,202.13 L165.72,202.21 L167.14,202.31 L168.56,202.43 L169.99,202.54 L171.43,202.67 L172.85,202.74 L174.29,202.83 L175.71,202.93 L177.15,203.02 L178.58,203.09 L180.00,203.19 L181.41,203.26 L182.81,203.38 L184.20,203.46 L185.56,203.49 L186.93,203.57 L188.30,203.65 L189.69,203.67 L191.08,203.75 L192.48,203.80 L193.93,203.90 L195.39,203.91 L196.87,203.98 L198.41,204.04 L200.00,204.09 L201.55,204.19 L203.06,204.24 L204.50,204.29 L205.91,204.35 L207.33,204.45 L208.80,204.51 L210.32,204.55 L211.93,204.64 L213.65,204.65 L215.51,204.70 L217.56,204.73 L219.80,204.77 L222.27,204.82 L224.99,204.77 L228.13,204.78 L231.73,204.75 L235.69,204.69 L240.00,204.63 L244.48,204.58 L249.10,204.52 L253.76,204.43 L258.35,204.40 L262.82,204.32 L267.04,204.24 L270.98,204.18 L274.51,204.08 L277.55,204.02 L280.00,204.01 L281.89,203.95 L283.34,203.94 L284.37,203.96 L285.04,203.99 L285.43,203.96 L285.60,204.02 L285.56,204.03 L285.40,204.03 L285.19,204.00 L284.95,204.01 L284.77,204.00 L284.67,204.00 L284.73,203.93 L285.00,203.92 L285.39,203.82 L285.82,203.74 L286.25,203.68 L286.66,203.62 L287.12,203.51 L287.55,203.39 L287.99,203.31 L288.45,203.17 L288.89,203.07 L289.33,202.94 L289.77,202.77 L290.20,202.64 L290.60,202.48 L291.00,202.29 L291.40,202.14 L291.78,201.94 L292.16,201.70 L292.52,201.51 L292.89,201.25 L293.26,201.02 L293.63,200.74 L293.98,200.51 L294.33,200.29 L294.68,199.98 L295.01,199.75 L295.34,199.52 L295.67,199.24 L295.99,199.00 L296.32,198.74 L296.62,198.52 L296.89,198.31 L297.19,198.11 L297.47,197.90 L297.74,197.69 L298.00,197.47 L298.28,197.24 L298.53,196.97 L298.82,196.70 L299.09,196.47 L299.38,196.16 L299.68,195.85 L300.01,195.47 L300.32,195.16 L300.65,194.78 L300.98,194.35 L301.32,193.96 L301.67,193.52 L302.02,193.04 L302.38,192.57 L302.74,192.14 L303.09,191.63 L303.47,191.12 L303.86,190.61 L304.23,190.06 L304.60,189.55 L305.00,189.03 L305.40,188.46 L305.82,187.86 L306.25,187.19 L306.71,186.59 L307.14,185.91 L307.61,185.29 L308.07,184.59 L308.52,183.91 L308.96,183.22 L309.41,182.54 L309.83,181.88 L310.23,181.27 L310.64,180.62 L311.01,180.01 L311.35,179.41 L311.67,178.82 L312.00,178.28 L312.30,177.74 L312.58,177.22 L312.87,176.71 L313.13,176.16 L313.40,175.63 L313.67,175.09 L313.93,174.57 L314.18,173.97 L314.46,173.34 L314.72,172.72 L314.99,172.00 L315.27,171.26 L315.58,170.45 L315.86,169.59 L316.14,168.71 L316.44,167.79 L316.71,166.88 L317.01,165.94 L317.29,164.99 L317.58,164.07 L317.84,163.16 L318.11,162.30 L318.39,161.48 L318.65,160.70 L318.89,160.01 L319.15,159.32 L319.38,158.75 L319.60,158.17 L319.81,157.61 L320.02,157.05 L320.23,156.54 L320.46,156.08 L320.65,155.65 L320.86,155.21 L321.07,154.77 L321.31,154.31 L321.53,153.90 L321.77,153.43 L322.00,152.99 L322.26,152.55 L322.56,152.08 L322.85,151.61 L323.17,151.13 L323.49,150.71 L323.82,150.27 L324.14,149.80 L324.47,149.39 L324.75,149.00 L325.05,148.61 L325.30,148.26 L325.54,147.98 L325.75,147.70 L325.90,147.48" stroke="#0000ff" stroke-width="1.15" fill="none"/>
<path d="M103.16,182.84 L103.77,184.35 L103.92,184.89 L104.55,185.38 L104.81,185.06 L105.07,186.23 L105.44,185.75 L106.43,187.58 L106.70,187.96 L106.81,188.44 L107.74,188.19 L108.09,189.40 L109.09,190.04 L109.12,190.27 L109.90,190.17 L110.34,191.12 L111.12,191.17 L111.92,192.36 L112.49,192.28 L113.40,192.88 L114.22,192.56 L114.96,192.73 L115.52,193.86 L116.47,193.75 L117.12,194.46 L117.61,194.82 L118.67,194.53 L119.21,195.13 L120.15,195.89 L120.61,195.71 L121.31,195.75 L122.06,196.70 L122.97,196.47 L123.60,197.04 L124.27,197.43 L124.91,197.37 L125.64,197.95 L126.48,197.99 L127.08,198.39 L127.90,198.62 L128.62,198.77 L129.28,199.02 L129.97,199.23 L130.68,199.37 L131.36,199.52 L131.96,199.78 L132.56,199.97 L133.17,200.10 L133.76,200.28 L134.38,200.46 L135.01,200.58 L135.70,200.73 L136.42,200.92 L137.19,201.01 L138.05,201.15 L138.97,201.29 L139.99,201.45 L141.13,201.57 L142.34,201.67 L143.62,201.80 L144.99,201.93 L146.40,202.02 L147.87,202.12 L149.36,202.24 L150.89,202.32 L152.44,202.42 L154.00,202.55 L155.54,202.64 L157.05,202.71 L158.54,202.87 L160.00,202.94 L161.43,203.05 L162.85,203.15 L164.29,203.27 L165.70,203.36 L167.13,203.48 L168.57,203.61 L170.00,203.70 L171.44,203.80 L172.86,203.87 L174.29,204.01 L175.71,204.10 L177.14,204.15 L178.57,204.27 L180.00,204.34 L181.43,204.44 L182.81,204.48 L184.20,204.60 L185.57,204.66 L186.95,204.73 L188.30,204.78 L189.68,204.85 L191.07,204.91 L192.49,204.95 L193.92,205.01 L195.39,205.08 L196.89,205.13 L198.41,205.17 L200.00,205.23 L201.57,205.31 L203.04,205.37 L204.49,205.44 L205.90,205.51 L207.33,205.57 L208.80,205.64 L210.31,205.68 L211.92,205.75 L213.65,205.80 L215.52,205.89 L217.57,205.89 L219.81,205.93 L222.27,205.97 L225.00,205.98 L228.13,205.92 L231.73,205.88 L235.70,205.84 L239.98,205.79 L244.49,205.72 L249.10,205.65 L253.75,205.58 L258.35,205.51 L262.82,205.47 L267.05,205.37 L270.98,205.33 L274.49,205.25 L277.58,205.19 L280.16,205.16 L282.17,205.14 L283.72,205.10 L284.83,205.09 L285.58,205.14 L285.99,205.13 L286.16,205.11 L286.14,205.15 L285.97,205.16 L285.73,205.16 L285.48,205.19 L285.26,205.16 L285.16,205.13 L285.22,205.08 L285.53,205.02 L285.96,204.99 L286.41,204.89 L286.87,204.83 L287.35,204.77 L287.83,204.68 L288.31,204.59 L288.80,204.47 L289.27,204.35 L289.77,204.22 L290.25,204.06 L290.70,203.94 L291.17,203.81 L291.63,203.62 L292.06,203.46 L292.49,203.27 L292.89,203.10 L293.30,202.84 L293.72,202.65 L294.12,202.39 L294.51,202.18 L294.89,201.89 L295.27,201.66 L295.62,201.40 L296.01,201.15 L296.36,200.93 L296.72,200.64 L297.05,200.40 L297.40,200.16 L297.73,199.89 L298.05,199.70 L298.34,199.45 L298.63,199.27 L298.91,199.03 L299.20,198.84 L299.48,198.59 L299.75,198.35 L300.01,198.14 L300.30,197.90 L300.58,197.59 L300.89,197.28 L301.20,196.98 L301.49,196.64 L301.81,196.27 L302.15,195.90 L302.48,195.53 L302.82,195.06 L303.17,194.62 L303.53,194.18 L303.86,193.75 L304.23,193.25 L304.60,192.76 L304.96,192.28 L305.34,191.75 L305.72,191.27 L306.11,190.70 L306.50,190.15 L306.90,189.60 L307.33,189.01 L307.75,188.38 L308.19,187.75 L308.66,187.06 L309.10,186.44 L309.56,185.76 L310.02,185.09 L310.45,184.38 L310.90,183.74 L311.33,183.04 L311.73,182.42 L312.14,181.74 L312.50,181.13 L312.85,180.53 L313.17,179.97 L313.48,179.47 L313.78,178.93 L314.09,178.37 L314.36,177.85 L314.63,177.34 L314.89,176.81 L315.16,176.24 L315.43,175.69 L315.69,175.12 L315.96,174.50 L316.22,173.84 L316.51,173.12 L316.79,172.42 L317.07,171.60 L317.36,170.77 L317.64,169.87 L317.94,168.96 L318.21,168.05 L318.50,167.10 L318.78,166.16 L319.07,165.26 L319.34,164.30 L319.61,163.46 L319.89,162.63 L320.15,161.88 L320.39,161.18 L320.63,160.46 L320.87,159.83 L321.11,159.15 L321.32,158.57 L321.54,157.92 L321.74,157.38 L321.96,156.81 L322.16,156.27 L322.36,155.84 L322.57,155.37 L322.80,154.97 L323.01,154.68 L323.25,154.38 L323.51,154.15 L323.77,153.97 L324.05,153.93 L324.35,153.94 L324.66,154.01 L324.99,154.13 L325.31,154.30 L325.64,154.48 L325.96,154.65 L326.00,154.68" stroke="#0000ff" stroke-width="1.15" fill="none"/>
<path d="M103.40,185.82 L103.32,185.33 L103.64,185.99 L103.95,186.18 L104.43,186.46 L105.49,186.78 L105.49,188.39 L105.86,187.91 L106.53,189.18 L106.92,189.14 L107.38,189.75 L108.17,190.86 L108.69,191.27 L109.59,191.38 L110.13,192.57 L110.86,192.95 L111.33,193.19 L111.85,193.93 L112.44,193.56 L113.12,194.12 L114.25,194.64 L114.55,195.26 L115.33,194.77 L116.28,194.92 L117.17,195.97 L117.98,196.23 L118.51,196.13 L119.21,196.81 L120.12,196.72 L120.72,197.41 L121.35,197.73 L122.08,197.75 L122.78,198.44 L123.46,198.28 L124.31,198.67 L124.94,198.93 L125.71,199.20 L126.42,199.28 L127.17,199.59 L127.90,199.83 L128.61,200.04 L129.30,200.44 L129.98,200.59 L130.69,200.66 L131.34,200.91 L131.95,201.12 L132.57,201.30 L133.15,201.44 L133.76,201.59 L134.37,201.75 L135.01,201.90 L135.69,202.04 L136.41,202.19 L137.19,202.31 L138.05,202.46 L138.98,202.59 L140.00,202.71 L141.13,202.79 L142.34,202.91 L143.63,202.99 L144.99,203.10 L146.40,203.21 L147.88,203.33 L149.38,203.40 L150.90,203.49 L152.45,203.57 L154.00,203.67 L155.53,203.81 L157.05,203.88 L158.56,204.02 L160.00,204.11 L161.43,204.18 L162.87,204.34 L164.30,204.41 L165.72,204.55 L167.15,204.66 L168.56,204.75 L170.00,204.82 L171.43,204.92 L172.85,205.04 L174.28,205.13 L175.71,205.24 L177.13,205.31 L178.57,205.39 L180.00,205.52 L181.41,205.60 L182.81,205.65 L184.20,205.73 L185.57,205.82 L186.93,205.86 L188.30,205.93 L189.69,206.01 L191.07,206.08 L192.50,206.13 L193.92,206.19 L195.37,206.24 L196.88,206.28 L198.42,206.34 L200.01,206.38 L201.56,206.46 L203.04,206.50 L204.49,206.58 L205.89,206.67 L207.34,206.73 L208.79,206.78 L210.32,206.87 L211.93,206.92 L213.65,206.97 L215.52,207.02 L217.56,207.03 L219.81,207.06 L222.27,207.10 L225.00,207.12 L228.13,207.09 L231.72,207.05 L235.71,207.01 L239.99,206.96 L244.47,206.89 L249.10,206.80 L253.76,206.76 L258.35,206.66 L262.81,206.59 L267.06,206.53 L270.98,206.45 L274.50,206.37 L277.62,206.35 L280.30,206.33 L282.44,206.27 L284.10,206.26 L285.30,206.27 L286.10,206.29 L286.58,206.30 L286.75,206.27 L286.72,206.30 L286.55,206.31 L286.29,206.31 L285.99,206.30 L285.79,206.30 L285.66,206.27 L285.75,206.27 L286.05,206.17 L286.53,206.11 L287.02,206.06 L287.51,205.96 L288.03,205.92 L288.54,205.83 L289.06,205.70 L289.59,205.58 L290.13,205.48 L290.63,205.37 L291.15,205.22 L291.67,205.07 L292.16,204.95 L292.64,204.80 L293.10,204.57 L293.58,204.42 L294.02,204.24 L294.45,204.03 L294.88,203.81 L295.31,203.58 L295.74,203.33 L296.13,203.07 L296.55,202.81 L296.93,202.56 L297.31,202.28 L297.70,202.02 L298.07,201.79 L298.44,201.54 L298.79,201.31 L299.13,201.06 L299.46,200.83 L299.79,200.64 L300.09,200.42 L300.36,200.18 L300.66,199.96 L300.94,199.76 L301.22,199.53 L301.50,199.29 L301.80,199.03 L302.09,198.78 L302.39,198.45 L302.69,198.14 L303.00,197.80 L303.31,197.42 L303.64,197.07 L303.99,196.62 L304.33,196.26 L304.67,195.81 L305.02,195.35 L305.37,194.87 L305.73,194.40 L306.10,193.92 L306.46,193.46 L306.84,192.91 L307.23,192.38 L307.60,191.85 L308.00,191.32 L308.40,190.72 L308.82,190.14 L309.25,189.49 L309.71,188.87 L310.16,188.25 L310.61,187.54 L311.06,186.86 L311.52,186.22 L311.97,185.53 L312.41,184.89 L312.83,184.21 L313.25,183.56 L313.62,182.94 L313.99,182.29 L314.34,181.73 L314.68,181.14 L315.00,180.61 L315.30,180.05 L315.57,179.56 L315.86,179.04 L316.13,178.51 L316.39,177.94 L316.67,177.43 L316.92,176.84 L317.18,176.27 L317.46,175.65 L317.72,174.97 L318.00,174.33 L318.29,173.56 L318.57,172.75 L318.85,171.89 L319.14,170.99 L319.43,170.09 L319.72,169.17 L320.01,168.24 L320.30,167.31 L320.57,166.38 L320.85,165.46 L321.12,164.64 L321.39,163.80 L321.65,162.98 L321.90,162.29 L322.14,161.61 L322.37,160.94 L322.59,160.25 L322.81,159.62 L323.03,158.94 L323.23,158.31 L323.45,157.71 L323.67,157.21 L323.86,156.71 L324.07,156.27 L324.30,155.90 L324.53,155.63 L324.76,155.45 L324.99,155.31 L325.27,155.30 L325.54,155.44 L325.85,155.64 L326.00,155.79" stroke="#0000ff" stroke-width="1.15" fill="none"/>
<path d="M103.77,186.00 L103.91,186.97 L103.98,187.38 L104.21,187.91 L104.77,188.02 L104.93,188.65 L105.36,189.67 L106.11,190.43 L106.69,190.80 L106.93,191.02 L107.41,192.24 L108.52,192.57 L108.82,192.53 L109.44,193.75 L110.00,193.90 L110.36,193.75 L111.28,195.11 L111.79,194.96 L112.52,194.79 L113.21,195.91 L113.98,195.95 L114.80,196.47 L115.59,196.90 L116.46,197.15 L117.07,197.73 L117.77,197.63 L118.38,198.03 L119.31,198.59 L119.85,198.26 L120.80,199.00 L121.48,198.85 L122.27,199.37 L122.95,199.81 L123.61,199.86 L124.32,199.89 L125.05,200.59 L125.74,200.67 L126.47,200.91 L127.09,201.20 L127.90,201.20 L128.58,201.38 L129.26,201.67 L130.00,201.96 L130.72,202.13 L131.33,202.25 L131.95,202.45 L132.56,202.61 L133.16,202.78 L133.77,202.92 L134.37,203.08 L135.01,203.21 L135.68,203.33 L136.41,203.47 L137.19,203.61 L138.04,203.72 L138.98,203.80 L139.99,203.94 L141.12,204.04 L142.34,204.11 L143.62,204.25 L144.98,204.31 L146.40,204.37 L147.88,204.49 L149.37,204.53 L150.91,204.63 L152.45,204.72 L154.01,204.81 L155.53,204.92 L157.06,205.06 L158.54,205.15 L160.01,205.24 L161.43,205.37 L162.85,205.49 L164.29,205.57 L165.71,205.66 L167.15,205.79 L168.57,205.89 L169.99,205.97 L171.42,206.12 L172.87,206.19 L174.29,206.30 L175.73,206.42 L177.13,206.50 L178.57,206.56 L180.01,206.62 L181.42,206.75 L182.80,206.79 L184.21,206.91 L185.57,206.98 L186.93,207.01 L188.32,207.05 L189.68,207.12 L191.08,207.23 L192.49,207.28 L193.91,207.32 L195.39,207.41 L196.87,207.42 L198.41,207.52 L199.99,207.54 L201.56,207.61 L203.05,207.67 L204.49,207.74 L205.91,207.80 L207.33,207.87 L208.79,207.92 L210.32,208.00 L211.93,208.07 L213.64,208.14 L215.53,208.17 L217.56,208.22 L219.81,208.25 L222.29,208.22 L225.00,208.28 L228.13,208.22 L231.72,208.23 L235.69,208.14 L239.99,208.10 L244.48,208.04 L249.10,207.99 L253.76,207.88 L258.35,207.85 L262.83,207.72 L267.06,207.65 L270.99,207.59 L274.51,207.53 L277.68,207.46 L280.47,207.46 L282.73,207.41 L284.50,207.39 L285.79,207.43 L286.65,207.42 L287.13,207.42 L287.32,207.42 L287.29,207.42 L287.09,207.47 L286.84,207.48 L286.52,207.44 L286.28,207.46 L286.18,207.43 L286.23,207.43 L286.59,207.33 L287.10,207.31 L287.61,207.22 L288.14,207.13 L288.69,207.08 L289.26,206.94 L289.82,206.84 L290.37,206.74 L290.96,206.66 L291.51,206.50 L292.07,206.37 L292.62,206.23 L293.14,206.07 L293.67,205.89 L294.16,205.73 L294.65,205.54 L295.14,205.38 L295.60,205.19 L296.06,204.94 L296.52,204.71 L296.97,204.44 L297.39,204.19 L297.81,203.96 L298.24,203.73 L298.66,203.46 L299.05,203.20 L299.43,202.93 L299.82,202.67 L300.19,202.43 L300.56,202.20 L300.90,201.97 L301.21,201.76 L301.53,201.58 L301.82,201.31 L302.12,201.14 L302.41,200.93 L302.70,200.70 L302.99,200.45 L303.28,200.17 L303.57,199.90 L303.88,199.64 L304.18,199.31 L304.50,198.96 L304.83,198.56 L305.16,198.21 L305.49,197.78 L305.82,197.38 L306.18,196.95 L306.51,196.50 L306.88,196.06 L307.23,195.57 L307.59,195.07 L307.97,194.56 L308.34,194.08 L308.72,193.55 L309.10,192.98 L309.49,192.47 L309.89,191.86 L310.32,191.28 L310.76,190.66 L311.19,190.04 L311.65,189.38 L312.10,188.74 L312.57,188.03 L313.01,187.35 L313.48,186.67 L313.90,186.00 L314.33,185.36 L314.73,184.71 L315.13,184.05 L315.51,183.44 L315.85,182.88 L316.17,182.26 L316.49,181.72 L316.78,181.23 L317.08,180.66 L317.36,180.15 L317.62,179.62 L317.89,179.13 L318.16,178.56 L318.43,178.00 L318.68,177.42 L318.95,176.78 L319.23,176.12 L319.50,175.43 L319.78,174.68 L320.07,173.89 L320.36,173.04 L320.64,172.17 L320.93,171.27 L321.22,170.30 L321.51,169.36 L321.80,168.46 L322.07,167.52 L322.34,166.62 L322.61,165.74 L322.90,164.92 L323.15,164.15 L323.41,163.43 L323.66,162.74 L323.87,162.04 L324.10,161.31 L324.33,160.59 L324.53,159.90 L324.73,159.25 L324.95,158.61 L325.16,158.06 L325.38,157.59 L325.58,157.15 L325.79,156.80 L326.00,156.62" stroke="#0000ff" stroke-width="1.15" fill="none"/>
<path d="M103.19,207.67 L103.10,209.67 L103.89,207.67 L103.68,210.61 L103.93,210.71 L103.93,210.06 L103.11,209.52 L104.16,210.53 L103.88,211.91 L103.93,211.00 L103.94,213.47 L104.32,213.35 L104.78,212.55 L104.65,213.42 L105.02,214.08 L104.91,214.00 L105.83,213.89 L105.78,215.72 L106.37,215.55 L106.09,216.20 L107.19,215.02 L106.95,217.56 L107.65,217.67 L107.62,218.29 L108.58,216.88 L109.07,218.02 L108.99,219.57 L109.17,218.23 L110.34,219.94 L110.05,220.44 L110.33,219.31 L111.35,219.15 L111.29,220.08 L111.79,220.34 L111.92,220.84 L112.46,221.56 L112.52,220.53 L113.44,222.09 L113.74,222.38 L113.57,221.60 L114.62,222.61 L114.53,223.29 L114.79,223.90 L115.49,222.68 L115.86,223.37 L115.82,222.84 L116.04,223.67 L116.53,224.48 L116.77,223.99 L117.43,224.40 L117.61,224.67 L117.94,224.64 L118.32,223.72 L118.66,224.61 L119.14,224.19 L119.22,224.47 L120.17,224.93 L120.61,224.43 L121.02,224.09 L121.96,223.94 L122.46,224.29 L123.16,225.05 L123.77,224.76 L124.77,224.14 L125.36,224.35 L126.13,224.43 L127.07,224.80 L127.78,224.44 L128.55,224.36 L129.28,224.35 L130.00,224.38 L130.66,224.40 L131.22,224.35 L131.68,224.34 L132.13,224.30 L132.55,224.35 L132.96,224.36 L133.44,224.33 L133.96,224.30 L134.57,224.22 L135.32,224.13 L136.20,224.12 L137.24,224.00 L138.50,223.85 L140.01,223.70 L141.74,223.55 L143.67,223.28 L145.86,223.08 L148.18,222.76 L150.64,222.50 L153.25,222.24 L155.93,221.93 L158.69,221.59 L161.49,221.25 L164.28,220.94 L167.06,220.65 L169.77,220.39 L172.44,220.09 L175.00,219.76 L177.48,219.52 L179.94,219.24 L182.41,219.03 L184.86,218.76 L187.28,218.55 L189.75,218.30 L192.18,218.00 L194.67,217.74 L197.13,217.51 L199.63,217.37 L202.18,217.10 L204.72,216.89 L207.36,216.73 L209.98,216.48 L212.73,216.28 L215.53,216.16 L218.41,216.01 L221.37,215.82 L224.33,215.71 L227.30,215.56 L230.32,215.46 L233.30,215.34 L236.26,215.14 L239.16,215.06 L242.00,214.94 L244.77,214.82 L247.44,214.75 L249.99,214.59 L252.50,214.44 L255.00,214.37 L257.54,214.27 L259.99,214.11 L262.43,214.09 L264.81,213.98 L267.13,213.81 L269.36,213.75 L271.45,213.70 L273.47,213.54 L275.34,213.49 L277.05,213.44 L278.63,213.38 L279.99,213.35 L281.17,213.22 L282.13,213.26 L282.89,213.25 L283.46,213.15 L283.93,213.21 L284.27,213.24 L284.51,213.16 L284.70,213.16 L284.84,213.18 L284.97,213.16 L285.16,213.13 L285.36,213.09 L285.61,213.11 L285.99,212.95 L286.44,212.91 L286.87,212.86 L287.30,212.71 L287.76,212.55 L288.19,212.43 L288.64,212.27 L289.05,212.19 L289.48,212.03 L289.92,211.87 L290.36,211.71 L290.80,211.49 L291.18,211.33 L291.58,211.17 L292.02,210.97 L292.39,210.77 L292.78,210.62 L293.16,210.47 L293.52,210.24 L293.89,210.06 L294.28,209.80 L294.64,209.56 L294.96,209.36 L295.32,209.12 L295.67,208.90 L296.01,208.71 L296.34,208.47 L296.69,208.23 L296.98,207.98 L297.30,207.75 L297.61,207.56 L297.89,207.28 L298.16,207.14 L298.42,206.87 L298.68,206.64 L298.95,206.36 L299.20,206.21 L299.45,205.96 L299.74,205.66 L300.04,205.44 L300.32,205.08 L300.64,204.80 L301.00,204.49 L301.38,204.13 L301.74,203.84 L302.16,203.49 L302.60,203.15 L303.02,202.75 L303.47,202.44 L303.95,202.06 L304.39,201.66 L304.85,201.19 L305.28,200.84 L305.75,200.39 L306.17,199.91 L306.59,199.47 L307.00,199.00 L307.39,198.54 L307.75,198.05 L308.13,197.50 L308.49,196.94 L308.84,196.40 L309.21,195.87 L309.57,195.35 L309.92,194.74 L310.25,194.20 L310.61,193.61 L310.96,192.99 L311.28,192.32 L311.65,191.71 L312.00,190.98 L312.34,190.27 L312.71,189.56 L313.08,188.82 L313.44,188.00 L313.82,187.15 L314.18,186.33 L314.57,185.50 L314.93,184.63 L315.28,183.86 L315.63,183.03 L316.01,182.22 L316.33,181.41 L316.68,180.71 L316.99,179.98 L317.33,179.29 L317.64,178.70 L317.91,178.11 L318.20,177.48 L318.49,176.85 L318.76,176.28 L319.05,175.79 L319.30,175.17 L319.59,174.67 L319.86,174.14 L320.16,173.56 L320.41,173.06 L320.71,172.56 L321.00,172.04 L321.33,171.49 L321.63,170.93 L321.98,170.34 L322.34,169.68 L322.71,169.17 L323.05,168.58 L323.39,168.01 L323.74,167.44 L324.07,166.93 L324.39,166.45 L324.64,166.04 L324.92,165.66 L325.13,165.23 L325.29,165.04" stroke="#000000" stroke-width="1.05" fill="none"/>
<path d="M103.41,209.69 L103.76,208.80 L103.75,209.48 L102.81,211.76 L103.93,209.47 L103.81,212.82 L104.15,211.99 L104.21,213.16 L103.94,213.89 L103.65,212.11 L104.06,214.62 L103.88,213.33 L104.55,215.79 L104.79,216.19 L104.52,214.73 L104.82,214.53 L105.99,215.41 L105.80,216.23 L105.65,218.03 L106.68,218.27 L106.51,217.75 L107.61,218.46 L107.59,219.04 L108.52,219.07 L108.74,218.13 L108.97,219.76 L108.96,220.21 L109.25,220.66 L109.89,219.17 L110.18,221.35 L110.61,221.06 L111.03,220.33 L111.40,221.57 L112.00,221.42 L111.72,223.05 L112.69,221.58 L112.59,223.59 L113.06,222.81 L113.65,224.30 L114.07,222.79 L114.21,224.97 L114.75,224.42 L115.14,224.88 L115.00,225.31 L115.44,224.72 L115.79,224.09 L116.04,225.06 L116.74,225.04 L116.83,225.92 L117.26,225.71 L117.57,225.14 L118.13,225.28 L118.02,226.32 L118.57,226.13 L119.02,225.40 L119.42,225.66 L119.96,225.81 L120.30,225.60 L121.26,226.04 L121.69,226.41 L122.37,226.55 L123.40,226.21 L123.91,226.55 L124.74,225.80 L125.47,226.47 L126.30,226.41 L126.94,226.45 L127.82,226.12 L128.58,226.16 L129.23,226.23 L130.04,226.27 L130.68,226.29 L131.23,226.26 L131.69,226.16 L132.12,226.17 L132.54,226.18 L132.96,226.18 L133.44,226.15 L133.96,226.19 L134.59,226.14 L135.33,226.03 L136.20,226.03 L137.27,225.91 L138.52,225.86 L140.01,225.69 L141.74,225.58 L143.71,225.36 L145.86,225.24 L148.19,224.93 L150.65,224.75 L153.25,224.41 L155.93,224.11 L158.67,223.78 L161.49,223.51 L164.26,223.18 L167.06,222.82 L169.77,222.56 L172.43,222.28 L175.01,221.99 L177.50,221.79 L179.94,221.50 L182.39,221.25 L184.84,220.96 L187.30,220.73 L189.73,220.44 L192.20,220.23 L194.64,220.02 L197.14,219.77 L199.63,219.55 L202.15,219.28 L204.74,219.09 L207.34,218.84 L209.99,218.73 L212.71,218.53 L215.54,218.34 L218.42,218.23 L221.37,218.04 L224.34,217.89 L227.33,217.80 L230.31,217.63 L233.29,217.52 L236.24,217.41 L239.17,217.23 L242.01,217.10 L244.75,216.99 L247.44,216.95 L249.98,216.84 L252.51,216.66 L255.03,216.60 L257.52,216.46 L260.01,216.39 L262.42,216.26 L264.83,216.19 L267.11,216.09 L269.35,216.00 L271.46,215.91 L273.48,215.75 L275.34,215.66 L277.11,215.64 L278.73,215.57 L280.22,215.47 L281.47,215.43 L282.52,215.39 L283.36,215.42 L284.02,215.37 L284.49,215.36 L284.88,215.35 L285.13,215.43 L285.37,215.43 L285.53,215.37 L285.68,215.41 L285.86,215.33 L286.11,215.36 L286.40,215.24 L286.84,215.17 L287.31,215.15 L287.77,214.98 L288.28,214.87 L288.79,214.78 L289.28,214.67 L289.75,214.49 L290.25,214.36 L290.75,214.19 L291.21,214.04 L291.71,213.91 L292.17,213.69 L292.63,213.56 L293.09,213.36 L293.51,213.23 L293.93,213.06 L294.38,212.86 L294.79,212.61 L295.19,212.44 L295.59,212.26 L296.01,212.00 L296.40,211.83 L296.78,211.62 L297.13,211.38 L297.53,211.17 L297.88,210.86 L298.24,210.67 L298.57,210.40 L298.93,210.22 L299.23,209.96 L299.55,209.79 L299.85,209.50 L300.12,209.33 L300.40,209.07 L300.66,208.81 L300.91,208.61 L301.18,208.40 L301.46,208.10 L301.76,207.88 L302.04,207.62 L302.34,207.34 L302.65,207.02 L302.99,206.73 L303.37,206.36 L303.77,206.00 L304.15,205.73 L304.58,205.36 L305.03,204.98 L305.47,204.63 L305.92,204.21 L306.41,203.86 L306.85,203.41 L307.28,202.98 L307.76,202.63 L308.17,202.15 L308.59,201.71 L309.00,201.24 L309.37,200.74 L309.76,200.26 L310.13,199.67 L310.51,199.18 L310.85,198.62 L311.21,198.13 L311.57,197.56 L311.90,196.98 L312.24,196.33 L312.58,195.74 L312.96,195.20 L313.30,194.50 L313.64,193.90 L314.00,193.20 L314.37,192.50 L314.74,191.73 L315.10,190.95 L315.47,190.22 L315.84,189.34 L316.20,188.52 L316.56,187.72 L316.92,186.91 L317.27,186.02 L317.63,185.25 L318.00,184.43 L318.34,183.62 L318.65,182.89 L319.00,182.19 L319.32,181.50 L319.61,180.83 L319.93,180.26 L320.19,179.56 L320.48,178.95 L320.77,178.39 L321.03,177.74 L321.33,177.16 L321.61,176.68 L321.88,176.08 L322.14,175.62 L322.42,175.08 L322.71,174.66 L323.01,174.17 L323.29,173.76 L323.64,173.38 L324.00,172.98 L324.34,172.61 L324.68,172.27 L325.06,172.04 L325.39,171.68 L325.73,171.40 L326.00,171.18" stroke="#000000" stroke-width="1.05" fill="none"/>
</g>
<line x1="191.5" y1="64.1" x2="177.30" y2="87.23" stroke="#111" stroke-width="1.05"/><polygon points="174,92.6 174.57,85.56 180.02,88.91" fill="#111"/>
<line x1="84.1" y1="151.3" x2="98.09" y2="183.19" stroke="#0000f0" stroke-width="1.05"/><polygon points="100.9,189.6 94.97,184.56 101.20,181.82" fill="#0000f0"/>
<line x1="147.3" y1="161.2" x2="116.35" y2="214.84" stroke="#111" stroke-width="1.05"/><polygon points="113.2,220.3 113.58,213.24 119.12,216.44" fill="#111"/>
<line x1="253" y1="133.5" x2="306.00" y2="133.50" stroke="#ee1111" stroke-width="1.05"/><polygon points="312.3,133.5 306.00,136.70 306.00,130.30" fill="#ee1111"/>
<text x="35.6" y="241.95" font-size="12" text-anchor="end" fill="#000" >0</text>
<text x="35.6" y="195.65" font-size="12" text-anchor="end" fill="#000" textLength="14.0" lengthAdjust="spacingAndGlyphs" >20</text>
<text x="35.6" y="147.85" font-size="12" text-anchor="end" fill="#000" textLength="14.0" lengthAdjust="spacingAndGlyphs" >40</text>
<text x="35.6" y="102.95" font-size="12" text-anchor="end" fill="#000" textLength="14.0" lengthAdjust="spacingAndGlyphs" >60</text>
<text x="35.6" y="55.95" font-size="12" text-anchor="end" fill="#000" textLength="14.0" lengthAdjust="spacingAndGlyphs" >80</text>
<text x="35.6" y="8.85" font-size="12" text-anchor="end" fill="#000" >100</text>
<text x="44.0" y="254.9" font-size="12" text-anchor="middle" fill="#000" >200</text>
<text x="103.19999999999999" y="254.9" font-size="12" text-anchor="middle" fill="#000" >400</text>
<text x="162.39999999999998" y="254.9" font-size="12" text-anchor="middle" fill="#000" >600</text>
<text x="221.6" y="254.9" font-size="12" text-anchor="middle" fill="#000" >800</text>
<text x="280.79999999999995" y="254.9" font-size="12" text-anchor="middle" fill="#000" >1000</text>
<text x="337.3" y="254.9" font-size="12" text-anchor="middle" fill="#000" >1200</text>
<text x="182" y="272.5" font-size="13" text-anchor="middle" fill="#000" textLength="101" lengthAdjust="spacingAndGlyphs" >Wavelength (nm)</text>
<text transform="translate(12.3,130.8) rotate(-90)" x="0" y="0" font-size="13" text-anchor="middle" textLength="97" lengthAdjust="spacingAndGlyphs">Reflectance (AU)</text>
<text x="213" y="43.5" font-size="12.5" text-anchor="middle" fill="#138813" textLength="27.3" lengthAdjust="spacingAndGlyphs" >After</text>
<text x="212.6" y="59.4" font-size="12.5" text-anchor="middle" fill="#138813" textLength="40.2" lengthAdjust="spacingAndGlyphs" >Sawing</text>
<text x="77.2" y="131.1" font-size="12.5" text-anchor="middle" fill="#0000f5" textLength="30.5" lengthAdjust="spacingAndGlyphs" >Diff +</text>
<text x="76.9" y="147.1" font-size="12.5" text-anchor="middle" fill="#0000f5" textLength="33" lengthAdjust="spacingAndGlyphs" >Oxide</text>
<text x="157.1" y="138.3" font-size="12.5" text-anchor="middle" fill="#000" textLength="45.5" lengthAdjust="spacingAndGlyphs" >After AR</text>
<text x="156.4" y="154.0" font-size="12.5" text-anchor="middle" fill="#000" textLength="41.7" lengthAdjust="spacingAndGlyphs" >Coating</text>
<text x="230" y="131.1" font-size="12.5" text-anchor="middle" fill="#f00000" textLength="27.4" lengthAdjust="spacingAndGlyphs" >After</text>
<text x="230" y="146.8" font-size="12.5" text-anchor="middle" fill="#f00000" textLength="52.5" lengthAdjust="spacingAndGlyphs" >Texturing</text>
</svg>
</body></html>
